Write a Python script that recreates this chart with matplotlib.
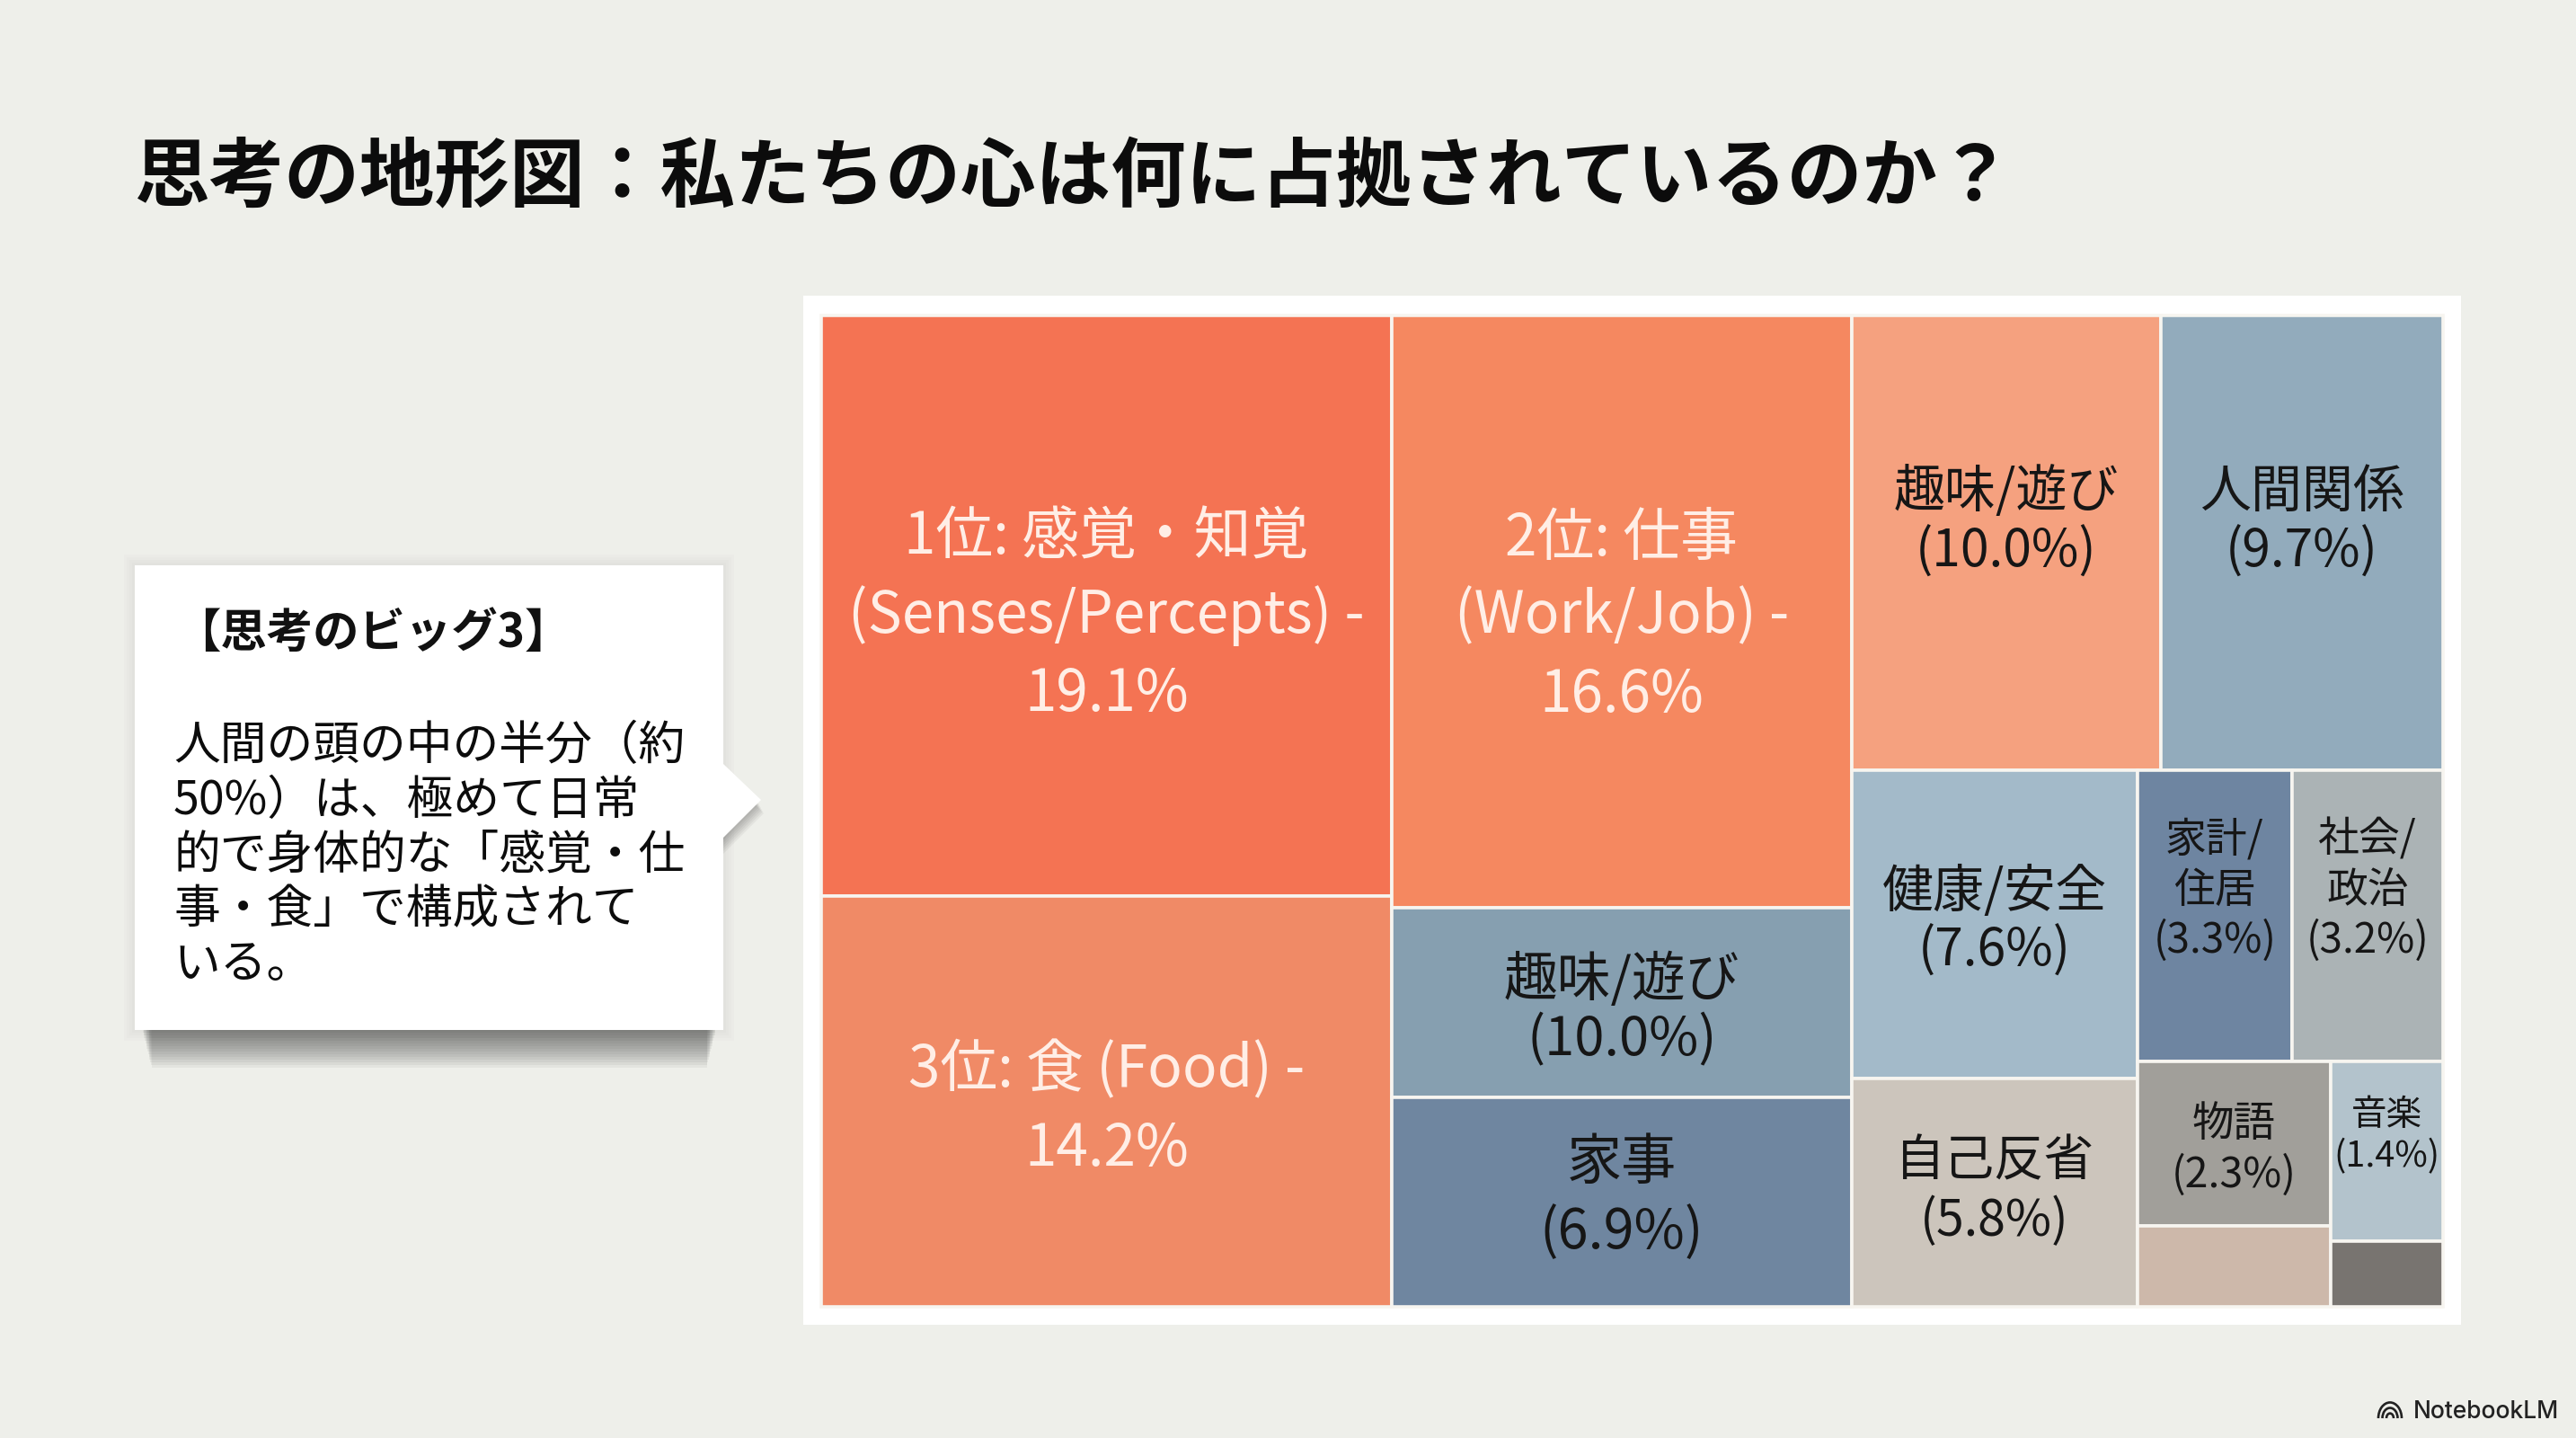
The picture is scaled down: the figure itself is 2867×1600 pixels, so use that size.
import matplotlib
matplotlib.use("Agg")
import matplotlib.pyplot as plt
from matplotlib.patches import Rectangle, Polygon, Arc

plt.rcParams['font.family'] = ['Noto Sans CJK JP', 'DejaVu Sans']

W, H = 2867, 1600
BG = "#eeefea"

title = "思考の地形図：私たちの心は何に占拠されているのか？"
call_head = "【思考のビッグ3】"
call_body = ["人間の頭の中の半分（約", "50%）は、極めて日常", "的で身体的な「感覚・仕", "事・食」で構成されて", "いる。"]

# area of each block (percent of the map), the printed
# percentages don't quite agree with the areas so they are kept apart
names = ["senses", "food", "work", "hobby_blue", "chores", "hobby", "people", "health",
         "reflect", "money", "society", "story", "unlabeled_a", "music", "unlabeled_b"]
areas = [20.58, 14.58, 16.96, 5.41, 6.00, 8.73, 7.99, 5.47, 4.06, 2.80, 2.74, 1.98, 0.97, 1.25, 0.46]
labels = [
    ["1位: 感覚・知覚", "(Senses/Percepts) -", "19.1%"],
    ["3位: 食 (Food) -", "14.2%"],
    ["2位: 仕事", "(Work/Job) -", "16.6%"],
    ["趣味/遊び", "(10.0%)"],
    ["家事", "(6.9%)"],
    ["趣味/遊び", "(10.0%)"],
    ["人間関係", "(9.7%)"],
    ["健康/安全", "(7.6%)"],
    ["自己反省", "(5.8%)"],
    ["家計/", "住居", "(3.3%)"],
    ["社会/", "政治", "(3.2%)"],
    ["物語", "(2.3%)"],
    [],
    ["音楽", "(1.4%)"],
    [],
]

colors = ["#f47353", "#f08a66", "#f58860", "#869fb0", "#6f86a0", "#f5a17f", "#92abbc", "#a3bac9",
          "#ccc5bc", "#6e85a1", "#abb3b5", "#a19f9a", "#cdb8aa", "#b3c3cc", "#787470"]
LIGHT = "#ffeee6"
DARK = "#161616"
text_colors = [LIGHT, LIGHT, LIGHT, DARK, DARK, DARK, DARK, DARK, DARK, DARK, DARK, DARK, DARK, DARK, DARK]
# font size (pt), line step (px), vertical nudge from cell centre (px)
sizes = [46, 46, 46, 43, 44, 41, 41, 41, 40, 33, 33, 33.5, 10, 28.5, 10]
steps = [87, 87, 87, 67, 77, 67, 67, 66, 66, 56, 56, 57, 50, 47, 50]
nudges = [7, 5, 1, 4, -9, -27, -27, -7, -5, -32, -32, 3, 0, -20, 0]

# how the blocks nest: "h" lays children left to right, "v" top to bottom
tree = ("h", [
    ("v", [0, 1]),
    ("v", [2, 3, 4]),
    ("v", [
        ("h", [5, 6]),
        ("h", [
            ("v", [7, 8]),
            ("v", [
                ("h", [9, 10]),
                ("h", [("v", [11, 12]), ("v", [13, 14])]),
            ]),
        ]),
    ]),
])


def weight(node):
    if isinstance(node, int):
        return areas[node]
    return sum(weight(c) for c in node[1])


def split(node, x, y, w, h, out):
    if isinstance(node, int):
        out[node] = (x, y, w, h)
        return
    total = weight(node)
    for c in node[1]:
        f = weight(c) / total
        if node[0] == "h":
            split(c, x, y, w * f, h, out)
            x += w * f
        else:
            split(c, x, y, w, h * f, out)
            y += h * f


fig = plt.figure(figsize=(W / 100, H / 100), dpi=100, facecolor=BG)

# page layer in pixel coordinates
page = fig.add_axes([0, 0, 1, 1])
page.set_xlim(0, W)
page.set_ylim(H, 0)
page.axis("off")

page.text(150, 199, title, fontsize=60.2, fontweight="bold", color="#0c0c0c", ha="left", va="center")

# white panel behind the map
page.add_patch(Rectangle((894, 329), 1845, 1145, fc="white", ec="none", zorder=1))

# callout shadow: strips under the box, darkest right below it, plus a faint halo
for i in range(14):
    d = 3 * (14 - i)
    inset = 8 + d * 0.25
    page.add_patch(Rectangle((150 + inset, 1140), 655 - 2 * inset, 6 + d,
                             fc="#333333", ec="none", alpha=0.055, zorder=1))
for g in (12, 9, 6, 3):
    page.add_patch(Rectangle((150 - g, 629 - g), 655 + 2 * g, 517 + 2 * g,
                             fc="#555555", ec="none", alpha=0.018, zorder=1))
for i in range(6):
    page.add_patch(Polygon([(805, 860), (845 + i, 895 + i * 2), (805, 935 + i * 3)],
                           fc="#333333", ec="none", alpha=0.06, zorder=1))
page.add_patch(Rectangle((150, 629), 655, 517, fc="white", ec="none", zorder=2))
page.add_patch(Polygon([(805, 850), (847, 890), (805, 932)], fc="white", ec="none", zorder=2))

page.text(194, 704, call_head, fontsize=37, fontweight="bold", color="#111111", ha="left", va="center", zorder=3)
for i, line in enumerate(call_body):
    page.text(193, 845 + i * 60.8, line, fontsize=37.3, color="#0c0c0c", ha="left", va="baseline", zorder=3)

# NotebookLM mark
for d in (26, 17, 8):
    page.add_patch(Arc((2660, 1578), d, d * 1.35, theta1=180, theta2=360, lw=1.9, color="#222222", zorder=3))
page.text(2686, 1571, "NotebookLM", fontsize=19, family=["Inter", "DejaVu Sans"], fontweight="medium",
          color="#222222", ha="left", va="center")

# treemap
ax = fig.add_axes([914 / W, 1 - 1454 / H, (2719 - 914) / W, (1454 - 351) / H])
ax.set_xlim(0, 1)
ax.set_ylim(1, 0)
ax.axis("off")
ax.patch.set_alpha(0)

cells = {}
split(tree, 0, 0, 1, 1, cells)
for i in range(len(names)):
    x, y, w, h = cells[i]
    ax.add_patch(Rectangle((x, y), w, h, fc=colors[i], ec="#f7f5f0", lw=2.6, clip_on=False))
    n = len(labels[i])
    size_px = sizes[i] * 100 / 72
    for j, line in enumerate(labels[i]):
        off = (n - 1) / 2 * steps[i] - j * steps[i] - nudges[i] - 0.36 * size_px
        ax.annotate(line, (x + w / 2, y + h / 2), xytext=(0, off * 0.72), textcoords="offset points",
                    fontsize=sizes[i], color=text_colors[i], ha="center", va="baseline")

fig.savefig("out.png", dpi=100, facecolor=BG)
